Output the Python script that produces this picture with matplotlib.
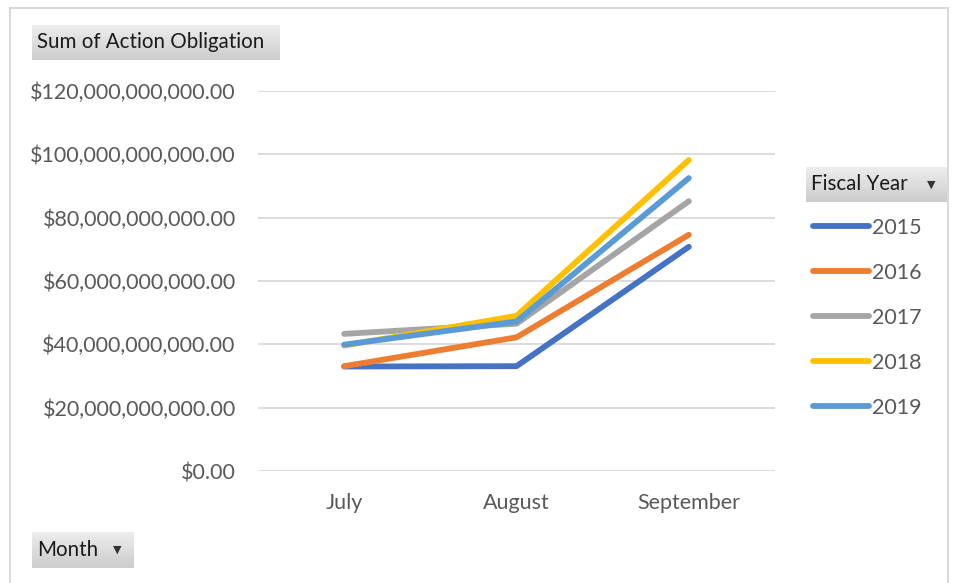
"""Pivot chart: Sum of Action Obligation by month, one line per fiscal year."""

import matplotlib
matplotlib.use("Agg")
import matplotlib.pyplot as plt
import numpy as np
from matplotlib.patches import Rectangle
from matplotlib.ticker import FuncFormatter

# ── Data (billions of dollars) ───────────────────────────────────────
months = ["July", "August", "September"]
years = ["2015", "2016", "2017", "2018", "2019"]
fy2015 = [33.0, 33.1, 70.8]
fy2016 = [33.1, 42.2, 74.6]
fy2017 = [43.3, 46.5, 85.2]
fy2018 = [39.6, 49.0, 98.2]
fy2019 = [39.9, 47.2, 92.5]
yticks = [0, 20, 40, 60, 80, 100, 120]

series = [fy2015, fy2016, fy2017, fy2018, fy2019]
colors = ["#4472C4", "#ED7D31", "#A5A5A5", "#FFC000", "#5B9BD5"]

W, H = 956, 583
FONT = "Lato"
FS = 15.5
TICK_COLOR = "#595959"
GRID_COLOR = "#d9d9d9"


def fx(px):
    return px / W


def fy(py):
    return 1 - py / H


def add_button(fig, x0, y0, x1, y1, label, arrow=False):
    """Excel-style grey field button with vertical gradient."""
    bax = fig.add_axes([fx(x0), fy(y1), fx(x1 - x0), (y1 - y0) / H])
    grad = np.linspace(0.93, 0.80, 50).reshape(-1, 1)
    bax.imshow(grad, cmap="gray", vmin=0, vmax=1, aspect="auto",
               extent=[0, 1, 0, 1], origin="upper")
    bax.set_xlim(0, 1)
    bax.set_ylim(0, 1)
    bax.set_axis_off()
    bax.text(5 / (x1 - x0), 0.5, label, ha="left", va="center",
             fontsize=14.8, family=FONT, color="#1a1a1a",
             transform=bax.transAxes)
    if arrow:
        bax.text(1 - 17 / (x1 - x0), 0.5, "\u25BC", ha="center", va="center",
                 fontsize=8, color="#333333", family="DejaVu Sans",
                 transform=bax.transAxes)


fig = plt.figure(figsize=(W / 100, H / 100), dpi=100)
fig.patch.set_facecolor("white")

# outer chart border
fig.patches.append(Rectangle((fx(10), fy(590)), fx(938), (590 - 8) / H,
                             transform=fig.transFigure, fill=False,
                             edgecolor=GRID_COLOR, linewidth=1.5))

ax = fig.add_axes([fx(258), fy(471), fx(775 - 258), (471 - 91) / H])
x = np.arange(len(months))
for vals, yr, col in zip(series, years, colors):
    ax.plot(x, vals, color=col, linewidth=4.2, solid_capstyle="round",
            solid_joinstyle="round", label=yr, zorder=3)

ax.set_xlim(-0.5, len(months) - 0.5)
ax.set_ylim(0, 120)
ax.set_xticks(x)
ax.set_xticklabels(months)
ax.set_yticks(yticks)
ax.yaxis.set_major_formatter(FuncFormatter(lambda v, _: f"${v * 1e9:,.2f}"))
ax.grid(axis="y", color=GRID_COLOR, linewidth=1.3, zorder=0)
ax.tick_params(length=0, labelsize=FS, labelcolor=TICK_COLOR)
ax.tick_params(axis="y", pad=16)
ax.tick_params(axis="x", pad=16)
for lab in ax.get_xticklabels() + ax.get_yticklabels():
    lab.set_family(FONT)
for s in ax.spines.values():
    s.set_visible(False)
ax.set_axisbelow(True)

leg = ax.legend(loc="upper left", bbox_to_anchor=(fx(813), fy(218)),
                bbox_transform=fig.transFigure, frameon=False,
                handlelength=2.6, handletextpad=0.12, labelspacing=1.16,
                borderpad=0, borderaxespad=0,
                prop={"family": FONT, "size": FS})
for t in leg.get_texts():
    t.set_color(TICK_COLOR)
for h in leg.get_lines():
    h.set_solid_capstyle("round")

add_button(fig, 32, 25, 280, 60, "Sum of Action Obligation")
add_button(fig, 806, 167, 948, 202, "Fiscal Year", arrow=True)
add_button(fig, 32, 532, 134, 568, "Month", arrow=True)

fig.savefig("out.png", dpi=100, facecolor="white")
